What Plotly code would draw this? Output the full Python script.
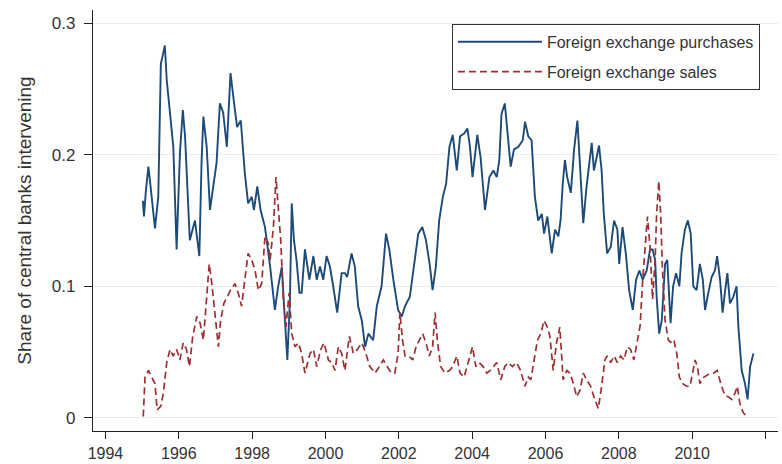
import plotly.graph_objects as go

# Foreign exchange purchases (share of central banks intervening)
purch_year = [1995.02, 1995.05, 1995.10, 1995.17, 1995.23, 1995.30, 1995.35, 1995.44, 1995.51, 1995.55,
              1995.62, 1995.67, 1995.73, 1995.85, 1995.94, 1996.03, 1996.11, 1996.17, 1996.30, 1996.44,
              1996.56, 1996.62, 1996.67, 1996.76, 1996.85, 1996.94, 1997.03, 1997.12, 1997.21, 1997.31,
              1997.41, 1997.53, 1997.59, 1997.69, 1997.80, 1997.89, 1997.99, 1998.05, 1998.14, 1998.23,
              1998.35, 1998.49, 1998.62, 1998.71, 1998.81, 1998.87, 1998.96, 1999.03, 1999.08, 1999.14,
              1999.21, 1999.29, 1999.35, 1999.44, 1999.56, 1999.67, 1999.76, 1999.85, 1999.94, 2000.03,
              2000.12, 2000.21, 2000.32, 2000.44, 2000.53, 2000.59, 2000.71, 2000.80, 2000.89, 2000.99,
              2001.08, 2001.17, 2001.30, 2001.40, 2001.53, 2001.65, 2001.74, 2001.85, 2001.98, 2002.08,
              2002.17, 2002.30, 2002.39, 2002.53, 2002.64, 2002.74, 2002.85, 2002.92, 2003.01, 2003.10,
              2003.20, 2003.29, 2003.38, 2003.47, 2003.58, 2003.67, 2003.78, 2003.87, 2003.94, 2004.01,
              2004.14, 2004.23, 2004.35, 2004.47, 2004.58, 2004.67, 2004.74, 2004.80, 2004.89, 2004.96,
              2005.05, 2005.14, 2005.26, 2005.38, 2005.44, 2005.53, 2005.62, 2005.71, 2005.80, 2005.90,
              2005.96, 2006.05, 2006.17, 2006.26, 2006.35, 2006.41, 2006.47, 2006.53, 2006.59, 2006.69,
              2006.78, 2006.87, 2006.94, 2007.03, 2007.12, 2007.21, 2007.26, 2007.32, 2007.40, 2007.46,
              2007.53, 2007.59, 2007.68, 2007.78, 2007.87, 2007.96, 2008.01, 2008.10, 2008.19, 2008.28,
              2008.38, 2008.47, 2008.56, 2008.65, 2008.76, 2008.85, 2008.92, 2008.99, 2009.03, 2009.10,
              2009.17, 2009.26, 2009.32, 2009.41, 2009.48, 2009.56, 2009.65, 2009.71, 2009.80, 2009.88,
              2009.96, 2010.03, 2010.12, 2010.21, 2010.29, 2010.35, 2010.44, 2010.53, 2010.62, 2010.68,
              2010.76, 2010.83, 2010.89, 2010.96, 2011.03, 2011.12, 2011.21, 2011.26, 2011.35, 2011.44,
              2011.51, 2011.58, 2011.67]
purch_share = [0.165, 0.153, 0.172, 0.191, 0.176, 0.160, 0.144, 0.168, 0.269, 0.274,
               0.283, 0.257, 0.241, 0.206, 0.128, 0.201, 0.234, 0.214, 0.135, 0.150,
               0.123, 0.194, 0.229, 0.206, 0.158, 0.176, 0.194, 0.239, 0.232, 0.206,
               0.262, 0.234, 0.221, 0.226, 0.186, 0.163, 0.168, 0.158, 0.176, 0.158,
               0.145, 0.115, 0.082, 0.100, 0.115, 0.085, 0.044, 0.090, 0.163, 0.135,
               0.120, 0.095, 0.095, 0.128, 0.105, 0.123, 0.105, 0.115, 0.105, 0.123,
               0.115, 0.100, 0.080, 0.110, 0.110, 0.107, 0.125, 0.115, 0.085, 0.074,
               0.054, 0.064, 0.059, 0.085, 0.100, 0.140, 0.128, 0.105, 0.082, 0.077,
               0.085, 0.092, 0.110, 0.140, 0.145, 0.135, 0.115, 0.097, 0.115, 0.150,
               0.168, 0.178, 0.206, 0.215, 0.188, 0.214, 0.216, 0.220, 0.206, 0.183,
               0.215, 0.198, 0.158, 0.183, 0.188, 0.183, 0.196, 0.231, 0.239, 0.216,
               0.191, 0.204, 0.206, 0.211, 0.225, 0.214, 0.211, 0.168, 0.150, 0.155,
               0.140, 0.153, 0.125, 0.143, 0.138, 0.150, 0.178, 0.196, 0.183, 0.171,
               0.204, 0.226, 0.193, 0.148, 0.176, 0.198, 0.209, 0.188, 0.198, 0.207,
               0.188, 0.155, 0.125, 0.130, 0.150, 0.143, 0.117, 0.145, 0.125, 0.097,
               0.082, 0.105, 0.112, 0.105, 0.112, 0.128, 0.128, 0.120, 0.092, 0.064,
               0.074, 0.117, 0.120, 0.072, 0.100, 0.110, 0.100, 0.125, 0.143, 0.150,
               0.140, 0.100, 0.097, 0.117, 0.105, 0.082, 0.095, 0.107, 0.112, 0.123,
               0.105, 0.080, 0.095, 0.110, 0.087, 0.092, 0.100, 0.069, 0.036, 0.026,
               0.014, 0.039, 0.049]

# Foreign exchange sales
sales_year = [1995.03, 1995.08, 1995.17, 1995.26, 1995.35, 1995.41, 1995.51, 1995.58, 1995.67, 1995.76,
              1995.85, 1995.94, 1996.03, 1996.12, 1996.21, 1996.29, 1996.38, 1996.49, 1996.58, 1996.67,
              1996.76, 1996.83, 1996.90, 1996.99, 1997.08, 1997.14, 1997.23, 1997.32, 1997.41, 1997.53,
              1997.62, 1997.71, 1997.80, 1997.89, 1997.99, 1998.08, 1998.17, 1998.26, 1998.35, 1998.44,
              1998.49, 1998.58, 1998.65, 1998.71, 1998.78, 1998.85, 1998.92, 1999.01, 1999.08, 1999.17,
              1999.26, 1999.35, 1999.44, 1999.58, 1999.67, 1999.76, 1999.87, 1999.96, 2000.08, 2000.17,
              2000.26, 2000.35, 2000.44, 2000.53, 2000.65, 2000.76, 2000.87, 2000.99, 2001.10, 2001.21,
              2001.35, 2001.47, 2001.58, 2001.68, 2001.80, 2001.89, 2001.98, 2002.03, 2002.10, 2002.17,
              2002.28, 2002.38, 2002.47, 2002.56, 2002.65, 2002.74, 2002.83, 2002.92, 2002.99, 2003.05,
              2003.14, 2003.26, 2003.38, 2003.47, 2003.58, 2003.67, 2003.78, 2003.89, 2004.01, 2004.10,
              2004.19, 2004.30, 2004.40, 2004.49, 2004.58, 2004.67, 2004.78, 2004.89, 2004.98, 2005.10,
              2005.21, 2005.32, 2005.44, 2005.53, 2005.60, 2005.69, 2005.78, 2005.87, 2005.96, 2006.05,
              2006.12, 2006.21, 2006.30, 2006.39, 2006.48, 2006.58, 2006.67, 2006.76, 2006.85, 2006.94,
              2007.03, 2007.12, 2007.23, 2007.32, 2007.44, 2007.53, 2007.62, 2007.68, 2007.78, 2007.87,
              2007.96, 2008.05, 2008.14, 2008.23, 2008.32, 2008.41, 2008.50, 2008.58, 2008.65, 2008.72,
              2008.78, 2008.85, 2008.92, 2008.99, 2009.03, 2009.09, 2009.14, 2009.19, 2009.26, 2009.35,
              2009.44, 2009.50, 2009.58, 2009.65, 2009.74, 2009.85, 2009.94, 2010.01, 2010.08, 2010.14,
              2010.21, 2010.32, 2010.44, 2010.58, 2010.68, 2010.78, 2010.89, 2010.98, 2011.08, 2011.17,
              2011.23, 2011.30, 2011.39, 2011.49]
sales_share = [0.001, 0.031, 0.036, 0.031, 0.026, 0.006, 0.009, 0.019, 0.042, 0.052,
               0.047, 0.052, 0.044, 0.057, 0.052, 0.039, 0.062, 0.077, 0.072, 0.059,
               0.092, 0.117, 0.102, 0.077, 0.054, 0.074, 0.087, 0.092, 0.097, 0.102,
               0.095, 0.085, 0.107, 0.125, 0.120, 0.112, 0.097, 0.102, 0.138, 0.133,
               0.120, 0.145, 0.183, 0.160, 0.135, 0.090, 0.069, 0.095, 0.064, 0.054,
               0.057, 0.049, 0.034, 0.049, 0.052, 0.039, 0.052, 0.057, 0.044, 0.042,
               0.036, 0.054, 0.049, 0.036, 0.062, 0.049, 0.052, 0.057, 0.049, 0.039,
               0.034, 0.039, 0.044, 0.039, 0.034, 0.034, 0.049, 0.080, 0.059, 0.047,
               0.047, 0.044, 0.054, 0.059, 0.064, 0.057, 0.047, 0.054, 0.080, 0.059,
               0.039, 0.034, 0.036, 0.039, 0.047, 0.034, 0.031, 0.042, 0.054, 0.039,
               0.042, 0.039, 0.034, 0.036, 0.039, 0.042, 0.029, 0.039, 0.042, 0.039,
               0.042, 0.036, 0.024, 0.031, 0.029, 0.044, 0.059, 0.064, 0.074, 0.069,
               0.062, 0.036, 0.057, 0.069, 0.029, 0.036, 0.034, 0.026, 0.016, 0.021,
               0.034, 0.029, 0.024, 0.016, 0.007, 0.024, 0.044, 0.047, 0.042, 0.047,
               0.042, 0.047, 0.044, 0.054, 0.052, 0.044, 0.059, 0.070, 0.105, 0.135,
               0.153, 0.130, 0.090, 0.120, 0.155, 0.180, 0.155, 0.112, 0.074, 0.059,
               0.057, 0.059, 0.049, 0.031, 0.026, 0.024, 0.024, 0.034, 0.044, 0.039,
               0.026, 0.031, 0.033, 0.034, 0.036, 0.026, 0.017, 0.016, 0.014, 0.019,
               0.024, 0.011, 0.004, 0.001]

x_ticks = [1994, 1996, 1998, 2000, 2002, 2004, 2006, 2008, 2010, 2012]
y_ticks = [0, 0.1, 0.2, 0.3]
y_tick_labels = ["0", "0.1", "0.2", "0.3"]

BLUE = "#1d4b78"
RED = "#9e3034"
FONT = "Liberation Sans, Arial, sans-serif"
TXT = "#333333"

fig = go.Figure()
fig.add_trace(go.Scatter(x=purch_year, y=purch_share, mode="lines",
                         name="Foreign exchange purchases", legendgroup="p",
                         line=dict(color=BLUE, width=1.9)))
fig.add_trace(go.Scatter(x=sales_year, y=sales_share, mode="lines",
                         name="Foreign exchange sales", legendgroup="s",
                         line=dict(color=RED, width=1.7, dash="7px,4px")))

fig.update_layout(
    width=782, height=464,
    margin=dict(l=93, r=4, t=10, b=33),
    paper_bgcolor="white", plot_bgcolor="white",
    font=dict(family=FONT, size=16, color=TXT),
    showlegend=True,
    legend=dict(x=0.524, y=0.967, xanchor="left", yanchor="top",
                bgcolor="white", bordercolor="#333333", borderwidth=1,
                font=dict(size=16, color=TXT), itemwidth=84,
                tracegroupgap=6),
    xaxis=dict(range=[1993.66, 2012.34], tickmode="array", tickvals=x_ticks,
               showgrid=False, zeroline=False, showline=True, linecolor="#222222",
               linewidth=1.2, ticks="outside", ticklen=7, tickcolor="#222222",
               ticklabelstandoff=1, automargin=False,
               tickfont=dict(size=16, color=TXT)),
    yaxis=dict(range=[-0.01, 0.31], tickmode="array", tickvals=y_ticks,
               ticktext=y_tick_labels, showgrid=True, gridcolor="#e7eef1",
               gridwidth=1, zeroline=False, showline=True, linecolor="#222222",
               linewidth=1.2, ticks="outside", ticklen=8, tickcolor="#222222",
               ticklabelstandoff=5, automargin=False,
               tickfont=dict(size=17, color=TXT),
               title=dict(text="Share of central banks intervening",
                          font=dict(size=19, color=TXT))),
)

fig.write_html("out.html",
               config={"displayModeBar": False},
               post_script="document.body.style.margin='0px';document.body.style.overflow='hidden';")
